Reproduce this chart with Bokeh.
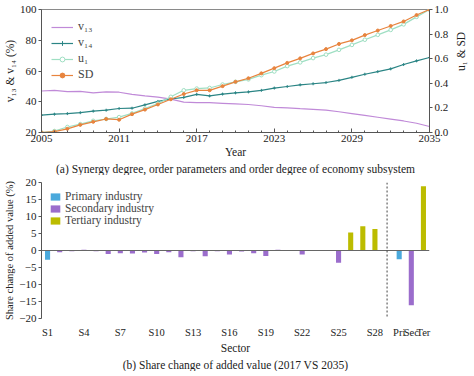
import math
from bokeh.plotting import figure
from bokeh.models import (ColumnDataSource, LinearAxis, Range1d, FixedTicker, Legend,
                          LegendItem, Span, Title, PrintfTickFormatter)
from bokeh.layouts import column
from bokeh.embed import file_html
from bokeh.resources import INLINE

# ---------------- data: panel (a) ----------------
years = list(range(2005, 2036))
v13 = [47.0, 47.4, 46.6, 46.8, 45.8, 46.4, 46.2, 44.8, 43.8, 43.0, 41.7, 39.8, 39.4,
       39.4, 39.0, 38.6, 38.2, 37.4, 36.4, 36.0, 35.5, 35.1, 34.5, 33.5, 32.3, 31.1,
       29.9, 28.7, 27.5, 26.0, 23.9]
v14 = [31.3, 31.9, 32.3, 32.9, 33.9, 34.5, 35.6, 35.8, 38.0, 40.2, 41.8, 42.8, 44.8,
       43.8, 45.0, 45.8, 46.4, 47.4, 48.9, 49.9, 51.0, 51.7, 52.5, 53.9, 55.9, 57.9,
       59.6, 61.4, 64.2, 66.6, 68.8]
u1 = [0.0, 0.012, 0.045, 0.068, 0.095, 0.11, 0.125, 0.155, 0.195, 0.235, 0.29, 0.343,
      0.357, 0.362, 0.39, 0.412, 0.432, 0.466, 0.496, 0.54, 0.57, 0.605, 0.633, 0.672,
      0.712, 0.754, 0.794, 0.834, 0.879, 0.94, 1.0]
sd = [0.0, 0.007, 0.03, 0.062, 0.087, 0.11, 0.104, 0.149, 0.186, 0.228, 0.27, 0.313,
      0.343, 0.343, 0.377, 0.412, 0.441, 0.481, 0.523, 0.566, 0.603, 0.643, 0.678, 0.72,
      0.749, 0.792, 0.829, 0.866, 0.903, 0.955, 1.0]
year_ticks = [2005, 2011, 2017, 2023, 2029, 2035]
left_ticks = [20, 40, 60, 80, 100]
right_ticks = [0.0, 0.2, 0.4, 0.6, 0.8, 1.0]

# ---------------- data: panel (b) ----------------
sector_labels = ["S%d" % i for i in range(1, 29)]
sector_values = [-2.7, -0.55, -0.2, 0.2, -0.2, -1.0, -0.8, -0.9, -0.6, -1.0, -0.5, -2.0,
                 -0.2, -1.7, -0.2, -1.2, -0.3, -0.8, -1.6, 0.2, -0.1, -1.2, -0.1, -0.1,
                 -3.6, 5.3, 7.1, 6.3]
sector_groups = ["Primary industry"] + ["Secondary industry"] * 24 + ["Tertiary industry"] * 3
total_labels = ["Pri", "Sec", "Ter"]
total_values = [-2.6, -16.1, 18.9]
group_names = ["Primary industry", "Secondary industry", "Tertiary industry"]
group_colors = ["#4aa9dc", "#9b6dcc", "#bcbc00"]
sector_ticks = [1, 4, 7, 10, 13, 16, 19, 22, 25, 28]

FONT = "Liberation Serif"
TICK_FS = "11px"
LAB_FS = "11.5px"
AX_COL = "#555555"

# ================= panel (a) =================
p1 = figure(frame_width=388, frame_height=123, min_border_left=36, min_border_right=34,
            min_border_top=9, min_border_bottom=0,
            x_range=Range1d(2005, 2035), y_range=Range1d(20, 100),
            output_backend="svg", toolbar_location=None)
p1.extra_y_ranges = {"r": Range1d(0, 1)}
p1.grid.visible = False
p1.outline_line_color = "#8a8a8a"

c13, c14, cu, csd = "#c08ad8", "#2b8585", "#9fdfc3", "#e8843e"
r13 = p1.line(years, v13, line_color=c13, line_width=1.2)
r14 = p1.line(years, v14, line_color=c14, line_width=1.2)
r14m = p1.scatter(years, v14, marker="cross", size=3, line_color=c14)
ru = p1.line(years, u1, line_color=cu, line_width=1.2, y_range_name="r")
rum = p1.scatter(years, u1, marker="circle", size=3.6, line_color=cu, fill_color="white",
                 y_range_name="r")
rs = p1.line(years, sd, line_color=csd, line_width=1.2, y_range_name="r")
rsm = p1.scatter(years, sd, marker="circle", size=3.0, line_color=csd, fill_color=csd,
                 y_range_name="r")

xa = p1.xaxis[0]
xa.ticker = FixedTicker(ticks=year_ticks, minor_ticks=years)
xa.axis_label = "Year"
ya = p1.yaxis[0]
ya.ticker = FixedTicker(ticks=left_ticks)
ya.axis_label = "v₁₃ & v₁₄ (%)"
ra = LinearAxis(y_range_name="r", ticker=FixedTicker(ticks=right_ticks),
                formatter=PrintfTickFormatter(format="%.1f"), axis_label="u₁ & SD")
ra.axis_label_orientation = math.pi / 2
p1.add_layout(ra, "right")

for ax in [xa, ya, ra]:
    ax.axis_line_color = AX_COL
    ax.major_tick_line_color = AX_COL
    ax.minor_tick_line_color = AX_COL
    ax.major_label_text_font = FONT
    ax.major_label_text_font_size = TICK_FS
    ax.major_label_text_color = "#222222"
    ax.axis_label_text_font = FONT
    ax.axis_label_text_font_size = LAB_FS
    ax.axis_label_text_font_style = "normal"
    ax.axis_label_text_color = "#222222"
    ax.axis_label_standoff = 1
    ax.major_label_standoff = 2
ra.axis_label_standoff = 10
xa.major_tick_in, xa.major_tick_out = 4, 0
xa.minor_tick_in, xa.minor_tick_out = 2, 0
for ax in [ya, ra]:
    ax.major_tick_in, ax.major_tick_out = 0, 3
    ax.minor_tick_line_color = None

leg1 = Legend(items=[LegendItem(label="v₁₃", renderers=[r13]),
                     LegendItem(label="v₁₄", renderers=[r14, r14m]),
                     LegendItem(label="u₁", renderers=[ru, rum]),
                     LegendItem(label="SD", renderers=[rs, rsm])],
              location="top_left")
leg1.label_text_font = FONT
leg1.label_text_font_size = "12px"
leg1.background_fill_alpha = 0
leg1.border_line_color = None
leg1.glyph_width = 22
leg1.glyph_height = 12
leg1.spacing = 1
leg1.padding = 4
leg1.margin = 10
leg1.label_standoff = 5
p1.add_layout(leg1)

t1 = Title(text="(a) Synergy degree, order parameters and order degree of economy subsystem",
           align="center", text_font=FONT, text_font_size=LAB_FS, text_font_style="normal",
           text_color="#222222", standoff=1)
p1.add_layout(t1, "below")

# ================= panel (b) =================
p2 = figure(frame_width=388, frame_height=136, min_border_left=36, min_border_right=34,
            min_border_top=7, min_border_bottom=0,
            x_range=Range1d(0.5, 32.5), y_range=Range1d(-20, 20),
            output_backend="svg", toolbar_location=None)
p2.grid.visible = False
p2.outline_line_color = None

n_sec = len(sector_labels)
divider = n_sec + 1
sec_pos = list(range(1, n_sec + 1))
tot_pos = [divider + 1 + i for i in range(len(total_labels))]

p2.add_layout(Span(location=0, dimension="width", line_color="#666666", line_width=1))
p2.add_layout(Span(location=divider, dimension="height", line_color="#444444",
                   line_width=1, line_dash="2 2"))

for gi, (g, col) in enumerate(zip(group_names, group_colors)):
    xs = [x for x, gg in zip(sec_pos, sector_groups) if gg == g] + [tot_pos[gi]]
    ts = [v for v, gg in zip(sector_values, sector_groups) if gg == g] + [total_values[gi]]
    src = ColumnDataSource(dict(x=xs, top=ts))
    p2.vbar(x="x", top="top", bottom=0, width=0.42, source=src, fill_color=col,
            line_color=None, legend_label=g)

xb = p2.xaxis[0]
xb.ticker = FixedTicker(ticks=sector_ticks + tot_pos)
xb.major_label_overrides = {**{p: sector_labels[p - 1] for p in sector_ticks},
                            **{p: l for p, l in zip(tot_pos, total_labels)}}
xb.axis_label = "Sector"
xb.axis_line_color = None
xb.major_tick_line_color = None
xb.minor_tick_line_color = None
yb = p2.yaxis[0]
yb.ticker = FixedTicker(ticks=[-20, -15, -10, -5, 0, 5, 10, 15, 20])
yb.axis_label = "Share change of added value (%)"
yb.axis_line_color = AX_COL
yb.major_tick_line_color = AX_COL
yb.minor_tick_line_color = None
yb.major_tick_in, yb.major_tick_out = 0, 3
for ax in [xb, yb]:
    ax.major_label_text_font = FONT
    ax.major_label_text_font_size = TICK_FS
    ax.major_label_text_color = "#222222"
    ax.axis_label_text_font = FONT
    ax.axis_label_text_font_size = LAB_FS
    ax.axis_label_text_font_style = "normal"
    ax.axis_label_text_color = "#222222"
    ax.axis_label_standoff = 1
    ax.major_label_standoff = 2
yb.axis_label_text_font_size = "10.5px"
xb.major_label_text_font_size = "10.5px"

leg2 = p2.legend[0]
leg2.location = "top_left"
leg2.label_text_font = FONT
leg2.label_text_font_size = LAB_FS
leg2.background_fill_alpha = 0
leg2.border_line_color = None
leg2.glyph_width = 12
leg2.glyph_height = 9
leg2.spacing = 0
leg2.padding = 2
leg2.margin = 8
leg2.label_standoff = 4
leg2.label_height = 10

t2 = Title(text="(b) Share change of added value (2017 VS 2035)", align="center",
           text_font=FONT, text_font_size=LAB_FS, text_font_style="normal",
           text_color="#222222", standoff=1)
p2.add_layout(t2, "below")

layout = column(p1, p2, spacing=0)
open("out.html", "w").write(file_html(layout, INLINE))
